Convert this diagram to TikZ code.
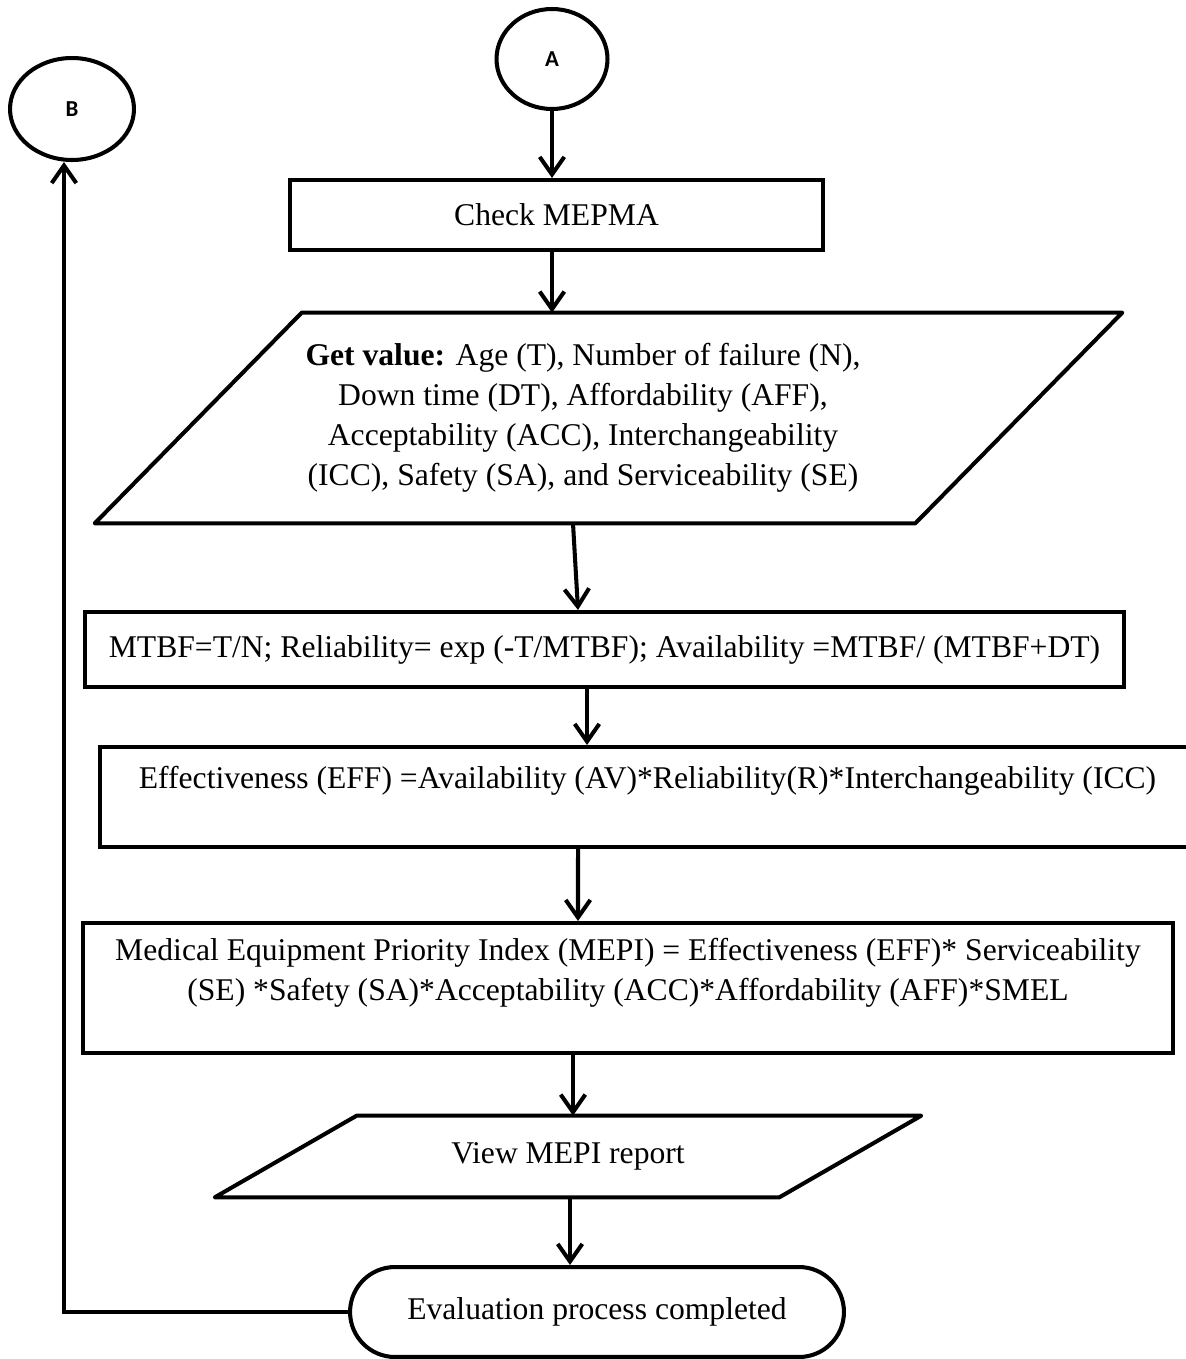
\documentclass[tikz,border=0pt]{standalone}
\usepackage{fontspec}
\setmainfont{Liberation Serif}
\newfontfamily\calibri{Carlito}
\usepackage{tikz}
\usetikzlibrary{positioning, shapes.geometric, shapes.misc, arrows.meta}

\begin{document}
\begin{tikzpicture}[x=0.02cm, y=-0.02cm, font=\fontsize{18}{22.7}\selectfont,
    boite/.style={draw, rectangle, line width=2.3pt, inner sep=0pt, align=center},
    entree/.style={rectangle, inner sep=0pt, align=center},
    contour/.style={line width=2.3pt, line join=round},
    connecteur/.style={draw, ellipse, line width=2.3pt, inner sep=0pt, font=\calibri\bfseries\fontsize{13}{15}\selectfont},
    terminal/.style={draw, rounded rectangle, line width=2.3pt, inner sep=0pt},
    fleche/.style={line width=2.3pt, -{Straight Barb[length=10pt, width=14pt, line width=2.3pt]}}]
    \useasboundingbox (0,0) rectangle (1186,1359);
    % connecteurs
    \node[connecteur, minimum width=2.22cm, minimum height=2cm] (a) at (552,59) {A};
    \node[connecteur, minimum width=2.48cm, minimum height=2.04cm] (b) at (72,109) {B};
    % etapes
    \node[boite, minimum width=10.66cm, minimum height=1.4cm] (check) at (556.5,215) {Check MEPMA};
    \node[entree, minimum width=16.4cm, minimum height=4.2cm] (getval) at (583,418)
        {\textbf{Get value:} Age (T), Number of failure (N),\\
        Down time (DT), Affordability (AFF),\\
        Acceptability (ACC), Interchangeability\\
        (ICC), Safety (SA), and Serviceability (SE)};
    \draw[contour] ([xshift=2.58cm]getval.north west) -- ([xshift=2.58cm]getval.north east)
        -- ([xshift=-1.56cm]getval.south east) -- ([xshift=-1.56cm]getval.south west) -- cycle;
    \node[boite, minimum width=20.78cm, minimum height=1.5cm] (mtbf) at (604.5,649.5)
        {MTBF=T/N; Reliability= exp (-T/MTBF); Availability =MTBF/ (MTBF+DT)};
    \node[boite, minimum width=21.9cm, minimum height=2cm] (eff) at (647.5,797)
        {Effectiveness (EFF) =Availability (AV)*Reliability(R)*Interchangeability (ICC)\\ \mbox{}};
    \node[boite, minimum width=21.8cm, minimum height=2.6cm, text depth=0.75cm] (mepi) at (628,988)
        {Medical Equipment Priority Index (MEPI) = Effectiveness (EFF)* Serviceability\\
        (SE) *Safety (SA)*Acceptability (ACC)*Affordability (AFF)*SMEL};
    \node[entree, minimum width=11.28cm, minimum height=1.62cm] (view) at (568,1156.5) {View MEPI report};
    \draw[contour] ([xshift=1.42cm]view.north west) -- ([xshift=1.42cm]view.north east)
        -- ([xshift=-1.42cm]view.south east) -- ([xshift=-1.42cm]view.south west) -- cycle;
    \node[terminal, minimum width=9.88cm, minimum height=1.8cm] (fin) at (597,1312) {Evaluation process completed};
    % fleches
    \draw[fleche] (a.south) -- (check.north -| a.south);
    \draw[fleche] (check.south -| a.south) -- (getval.north -| a.south);
    \draw[fleche] ([xshift=-0.2cm]getval.south) -- ([xshift=-0.53cm]mtbf.north);
    \draw[fleche] ([xshift=-0.35cm]mtbf.south) -- ([xshift=-0.35cm]mtbf.south |- eff.north);
    \draw[fleche] ([xshift=-1.39cm]eff.south) -- ([xshift=-1cm]mepi.north);
    \draw[fleche] ([xshift=-1.1cm]mepi.south) -- ([xshift=-1.1cm]mepi.south |- view.north);
    \draw[fleche] ([xshift=0.04cm]view.south) -- ([xshift=0.04cm]view.south |- fin.north);
    \draw[fleche] (fin.west) -| ([xshift=-0.16cm]b.south);
\end{tikzpicture}
\end{document}
